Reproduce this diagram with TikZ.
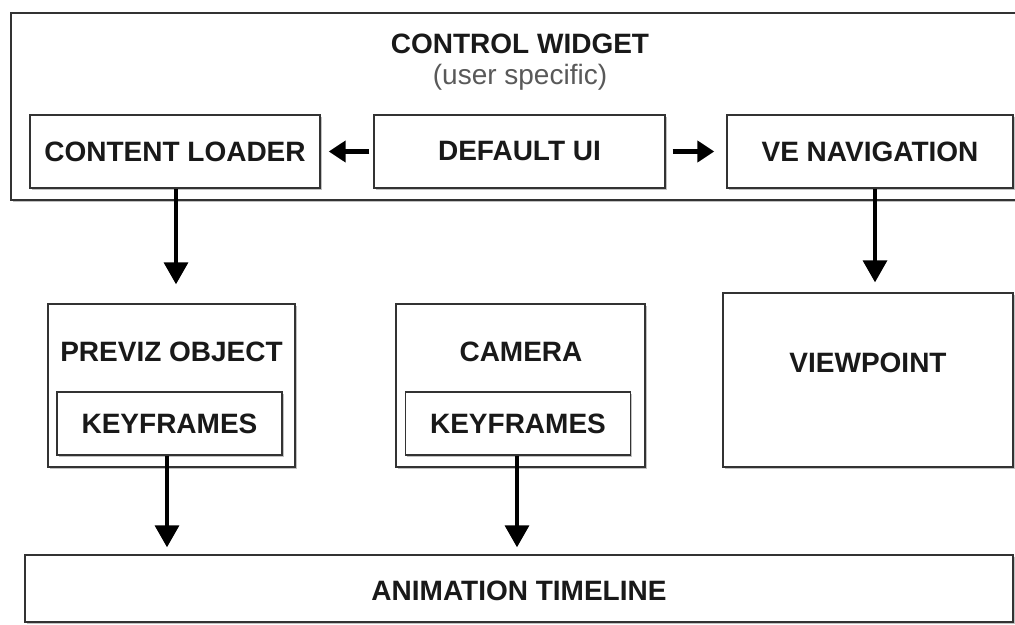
\documentclass[tikz,border=0pt]{standalone}
\usepackage{fontspec}
\setmainfont{Liberation Sans}
\usetikzlibrary{arrows.meta,shadows}
\begin{document}
\begin{tikzpicture}[x=1pt,y=-1pt,
  box/.style={draw=black!80,line width=1.4pt,fill=white,inner sep=0pt,
    drop shadow={shadow xshift=1.6pt,shadow yshift=-1.8pt,fill=black!40,opacity=0.6}},
  lbl/.style={font=\fontsize{28}{32}\selectfont\bfseries,inner sep=0pt,text=black!90},
  sub/.style={font=\fontsize{28}{32}\selectfont,inner sep=0pt,text=black!65},
  bigarrow/.style={line width=3.6pt,-{Triangle[width=24pt,length=22pt]}},
  smallarrow/.style={line width=4.2pt,-{Triangle[width=21pt,length=17pt]}}]
\useasboundingbox (0,0) rectangle (1015,624);
\fill[white] (0,0) rectangle (1015,624);
% control widget
\node[box,minimum width=1010pt,minimum height=187pt] (cw) at (516,106.5) {};
\node[lbl] (cwt) at (520,44) {CONTROL WIDGET};
\node[sub] (cws) at (520,77) {(user specific)};
\node[box,lbl,minimum width=290pt,minimum height=73pt] (cl) at (175,151.5) {CONTENT LOADER};
\node[box,lbl,minimum width=291pt,minimum height=73pt] (dui) at (519.5,151.5) {DEFAULT UI};
\node[box,lbl,minimum width=286pt,minimum height=73pt] (ven) at (870,151.5) {VE NAVIGATION};
% middle row
\node[box,minimum width=247pt,minimum height=163pt] (pv) at (171.5,385.5) {};
\node[lbl] (pvt) at (171.5,352) {PREVIZ OBJECT};
\node[box,lbl,minimum width=225pt,minimum height=63pt] (kf1) at (169.5,423.5) {KEYFRAMES};
\node[box,minimum width=249pt,minimum height=163pt] (cam) at (520.5,385.5) {};
\node[lbl] (camt) at (521,352) {CAMERA};
\node[box,lbl,minimum width=225pt,minimum height=63pt] (kf2) at (518,423.5) {KEYFRAMES};
\node[box,minimum width=290pt,minimum height=174pt] (vp) at (868,380) {};
\node[lbl] (vpt) at (868,363) {VIEWPOINT};
% timeline
\node[box,minimum width=988pt,minimum height=67pt] (at) at (519,588.5) {};
\node[lbl] (att) at (519,591) {ANIMATION TIMELINE};
% arrows
\draw[smallarrow,shorten <=4pt,shorten >=8pt] (dui.west) -- (cl.east);
\draw[smallarrow,shorten <=7pt,shorten >=12pt] (dui.east) -- (ven.west);
\draw[bigarrow,shorten >=19pt] ([xshift=1pt]cl.south) -- ([xshift=1pt]cl.south |- pv.north);
\draw[bigarrow,shorten >=10pt] ([xshift=5pt]ven.south) -- ([xshift=5pt]ven.south |- vp.north);
\draw[bigarrow,shorten >=7pt] ([xshift=-2.5pt]kf1.south) -- ([xshift=-2.5pt]kf1.south |- at.north);
\draw[bigarrow,shorten >=7pt] ([xshift=-1pt]kf2.south) -- ([xshift=-1pt]kf2.south |- at.north);
\end{tikzpicture}
\end{document}
